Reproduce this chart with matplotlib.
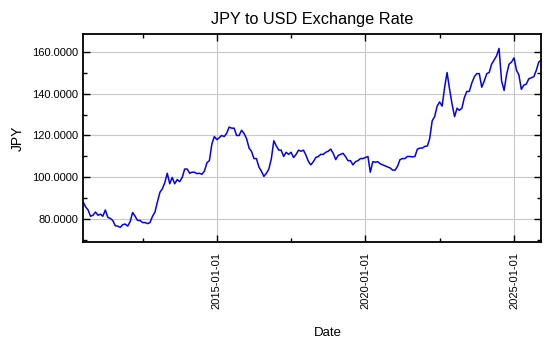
import numpy as np
import pandas as pd
import matplotlib
matplotlib.use('Agg')
import matplotlib.pyplot as plt
import matplotlib.dates as mdates
from matplotlib.ticker import FixedLocator, MultipleLocator, FormatStrFormatter

plt.rcParams['font.family'] = ['Liberation Sans', 'DejaVu Sans']

# Monthly JPY per USD (Jul 2010 - Dec 2025)
rate_2010 = [88.5, 86, 84.5, 81.5, 82, 83.5]
rate_2011 = [82, 82.5, 81.5, 84.5, 81, 80.5, 79.5, 77, 76.8, 76.2, 77.5, 77.8]
rate_2012 = [76.8, 79, 83.3, 81.5, 79.5, 79.5, 78.5, 78.5, 78, 78.5, 81.5, 83.5]
rate_2013 = [88.5, 93, 94.5, 97.5, 102, 97, 100, 97, 99, 98, 100, 104]
rate_2014 = [104, 102, 102.5, 102.5, 101.8, 102, 101.5, 103, 107, 108, 116, 119.5]
rate_2015 = [118, 119, 120, 119.5, 121, 124, 123.5, 123.5, 120, 120, 122.5, 121]
rate_2016 = [118.5, 114, 112.5, 109, 109, 105, 103, 100.5, 102, 104, 109, 117.5]
rate_2017 = [115, 113, 113, 110, 112, 111, 112, 109.5, 111, 113, 112.5, 113]
rate_2018 = [110.5, 107.5, 106, 107.5, 109.5, 110, 111, 111, 112, 112.5, 113.5, 111.5]
rate_2019 = [108.5, 110.5, 111, 111.5, 110, 108, 108, 106, 107.5, 108, 109, 109]
rate_2020 = [109.5, 110, 102.5, 107.5, 107.3, 107.5, 106.5, 106, 105.5, 105, 104.5, 103.5]
rate_2021 = [103.5, 105.5, 108.5, 109, 109, 110, 110, 109.8, 110, 113.5, 114, 114]
rate_2022 = [114.8, 115, 118.5, 127, 129, 134, 136, 134, 143, 150, 142, 135]
rate_2023 = [129, 133, 132, 133, 138, 141, 141, 145, 148, 149.5, 149.5, 143]
rate_2024 = [146, 149.5, 150, 154, 156, 158, 161.5, 146, 141.5, 149, 154, 155]
rate_2025 = [157, 151, 149, 142, 144, 144.5, 147, 147.5, 148, 151, 155, 156]

rates = (rate_2010 + rate_2011 + rate_2012 + rate_2013 + rate_2014 + rate_2015
         + rate_2016 + rate_2017 + rate_2018 + rate_2019 + rate_2020 + rate_2021
         + rate_2022 + rate_2023 + rate_2024 + rate_2025)
dates = pd.date_range('2010-07-01', periods=len(rates), freq='MS')

fig = plt.figure(figsize=(5.5, 3.5), dpi=100)
ax = fig.add_axes([0.151, 0.309, 0.833, 0.594])

ax.plot(dates, rates, color='#0000ff', linewidth=1.1)

ax.set_xlim(dates[0], dates[-1])
ax.set_ylim(69.3, 168.4)

# x ticks: every 5 years, minor ticks half way
ax.xaxis.set_major_locator(mdates.YearLocator(5))
ax.xaxis.set_major_formatter(mdates.DateFormatter('%Y-%m-%d'))
minor_dates = pd.to_datetime(['2012-07-02', '2017-07-02', '2022-07-02'])
ax.xaxis.set_minor_locator(FixedLocator(mdates.date2num(minor_dates)))

ax.yaxis.set_major_locator(MultipleLocator(20))
ax.yaxis.set_minor_locator(MultipleLocator(10))
ax.yaxis.set_major_formatter(FormatStrFormatter('%.4f'))

ax.tick_params(which='both', direction='in', top=True, right=True, labelsize=8)
ax.tick_params(which='major', length=5, width=1)
ax.tick_params(which='minor', length=3, width=1)
ax.tick_params(axis='x', which='major', pad=7)
plt.setp(ax.get_xticklabels(), rotation=90)

for s in ax.spines.values():
    s.set_linewidth(1.3)

ax.grid(True, which='major', color='#c8c8c8', linestyle='-', linewidth=0.8)

ax.set_title('JPY to USD Exchange Rate', fontsize=11.7, pad=7)
ax.set_xlabel('Date', fontsize=9.5)
ax.xaxis.set_label_coords(0.535, -0.41)
ax.set_ylabel('JPY', fontsize=10)
ax.yaxis.set_label_coords(-0.128, 0.5)

fig.savefig('out.png', dpi=100)
